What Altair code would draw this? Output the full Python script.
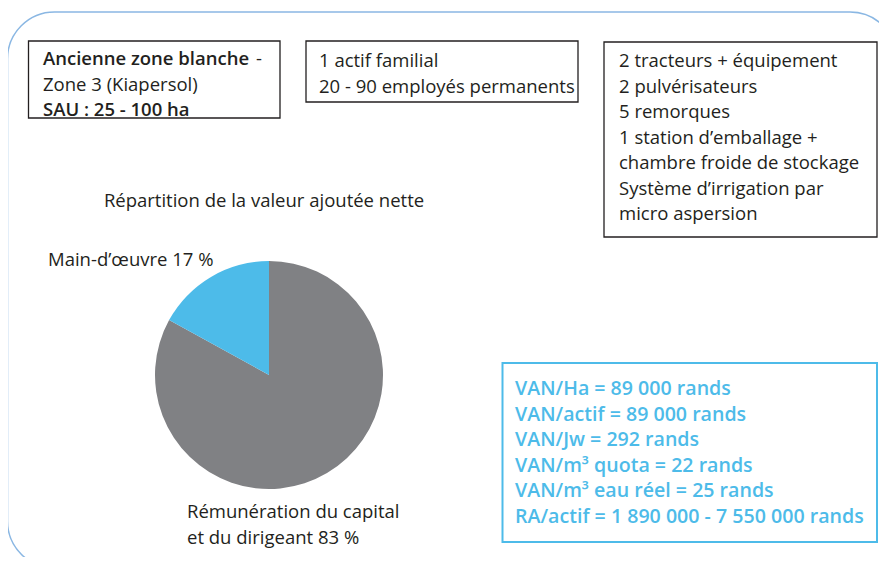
import altair as alt
import pandas as pd

# ---------------- data ----------------
categories = ["Rémunération du capital et du dirigeant", "Main-d'œuvre"]
shares = [83, 17]
slice_colors = ["#808184", "#4dbbe9"]

box1_bold_1 = "Ancienne zone blanche"
box1_rest_1 = "-"
box1_line_2 = "Zone 3 (Kiapersol)"
box1_line_3 = "SAU : 25 - 100 ha"
box2_lines = ["1 actif familial", "20 - 90 employés permanents"]
box3_lines = [
    "2 tracteurs + équipement",
    "2 pulvérisateurs",
    "5 remorques",
    "1 station d’emballage +",
    "chambre froide de stockage",
    "Système d’irrigation par",
    "micro aspersion",
]
pie_title = "Répartition de la valeur ajoutée nette"
label_small = "Main-d’œuvre 17 %"
label_big = ["Rémunération du capital", "et du dirigeant 83 %"]
van_lines = [
    "VAN/Ha = 89 000 rands",
    "VAN/actif = 89 000 rands",
    "VAN/Jw = 292 rands",
    "VAN/m³ quota = 22 rands",
    "VAN/m³ eau réel = 25 rands",
    "RA/actif = 1 890 000 - 7 550 000 rands",
]

W, H = 871, 549
FONT = "Open Sans"
INK = "#231f20"
BLUE = "#4dbbe9"
FS = 18.5
LH = 25.5

base = alt.Chart(pd.DataFrame({"d": [0]}))


def frame(x, y, x2, y2, color=INK, sw=1.3, radius=0):
    return base.mark_rect(
        fill=None, stroke=color, strokeWidth=sw, cornerRadius=radius
    ).encode(
        x=alt.value(x), y=alt.value(y), x2=alt.value(x2), y2=alt.value(y2)
    )


def txt(t, x, y, color=INK, weight="normal", align="left", size=FS):
    return base.mark_text(
        font=FONT, fontSize=size, fontWeight=weight, color=color, align=align,
        baseline="alphabetic", lineHeight=LH,
    ).encode(x=alt.value(x), y=alt.value(y), text=alt.value(t))


# outer rounded frame (page coords minus 8)
outer = frame(-0.5, 4, 889, 560, color="#8ab7e3", sw=1.5, radius=47)

b1 = frame(20.5, 33, 272, 110)
b2 = frame(298, 33, 570, 94)
b3 = frame(596, 34, 869, 229)
b4 = frame(494.5, 355, 869, 534, color=BLUE, sw=2)

t1a = txt(box1_bold_1, 35, 57, weight=600)
t1b = txt(box1_rest_1, 248, 57)
t1c = txt(box1_line_2, 35, 83)
t1d = txt(box1_line_3, 35, 108, weight=600)
t2 = txt(box2_lines, 311, 59)
t3 = txt(box3_lines, 611, 59)
t4 = txt(van_lines, 507, 387, color=BLUE, weight=600, size=19.6)
title = txt(pie_title, 256, 199, align="center")
lab1 = txt(label_small, 40, 258)
lab2 = txt(label_big, 179, 510)

pie_df = pd.DataFrame({"cat": categories, "share": shares, "ord": [0, 1]})
pie = alt.Chart(pie_df).mark_arc(radius=114).encode(
    theta=alt.Theta("share:Q", stack=True),
    order=alt.Order("ord:Q"),
    color=alt.Color(
        "cat:N",
        scale=alt.Scale(domain=categories, range=slice_colors),
        legend=None,
    ),
    x=alt.value(261),
    y=alt.value(367),
)

chart = alt.layer(
    outer, b1, b2, b3, b4, pie, t1a, t1b, t1c, t1d, t2, t3, t4, title, lab1, lab2
).properties(
    width=W, height=H, padding=0, autosize=alt.AutoSizeParams(type="none")
).configure_view(stroke=None)

chart.save("out.html", embed_options={"renderer": "svg", "actions": False})
